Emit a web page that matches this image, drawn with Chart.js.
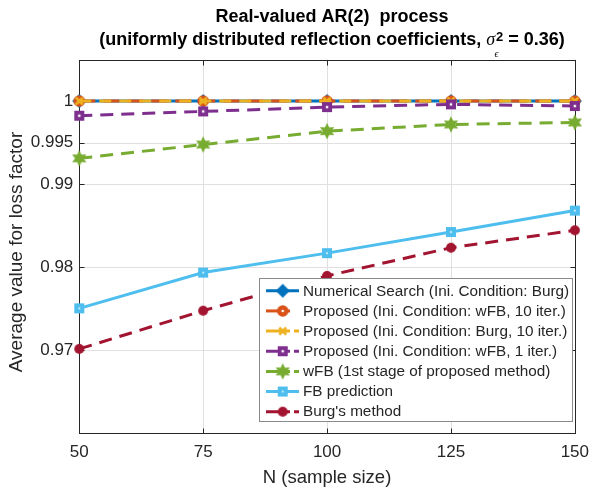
<!DOCTYPE html>
<html><head><meta charset="utf-8">
<script src="https://cdn.jsdelivr.net/npm/chart.js@4"></script>
<style>html,body{margin:0;padding:0;background:#fff}canvas{display:block}</style>
</head><body>
<canvas id="c" width="598" height="493"></canvas>
<script>
// ---------- data ----------
const sampleSizes = [50, 75, 100, 125, 150];
const numericalSearch = [1.0000, 1.0000, 1.0000, 1.0000, 1.0000];
const proposedWFB10  = [1.0000, 1.0000, 1.0000, 1.0000, 1.0000];
const proposedBurg10 = [1.0000, 1.0000, 1.0000, 1.0000, 1.0000];
const proposedWFB1   = [0.99823, 0.99875, 0.99927, 0.99960, 0.99940];
const wFBStage       = [0.99310, 0.99476, 0.99637, 0.99718, 0.99742];
const fbPrediction   = [0.97504, 0.97935, 0.98169, 0.98423, 0.98681];
const burgMethod     = [0.97016, 0.97476, 0.97895, 0.98234, 0.98444];
const xTicks = [50, 75, 100, 125, 150];
const yTicks = [0.97, 0.98, 0.99, 0.995, 1];
const seriesNames = [
  'Numerical Search (Ini. Condition: Burg)',
  'Proposed (Ini. Condition: wFB, 10 iter.)',
  'Proposed (Ini. Condition: Burg, 10 iter.)',
  'Proposed (Ini. Condition: wFB, 1 iter.)',
  'wFB (1st stage of proposed method)',
  'FB prediction',
  "Burg's method"
];
const seriesValues = [numericalSearch, proposedWFB10, proposedBurg10, proposedWFB1, wFBStage, fbPrediction, burgMethod];

// ---------- marker images ----------
function mk(size, fn){const c=document.createElement('canvas');c.width=c.height=size;const g=c.getContext('2d');fn(g,size/2);return c;}
const FONT='"Liberation Sans", Arial, Helvetica, sans-serif';
const mDiamond = mk(16,(g,h)=>{g.fillStyle='#0072BD';g.beginPath();g.moveTo(h,1);g.lineTo(15,h);g.lineTo(h,15);g.lineTo(1,h);g.closePath();g.fill();});
const mOrange = mk(14,(g,h)=>{g.fillStyle='#D95319';g.beginPath();g.arc(h,h,5.8,0,Math.PI*2);g.fill();g.fillStyle='#fff';g.beginPath();g.arc(h,h,1.3,0,Math.PI*2);g.fill();});
const mX = mk(12,(g,h)=>{g.strokeStyle='#EDB120';g.lineWidth=2.6;g.beginPath();g.moveTo(h-3.5,h-3.5);g.lineTo(h+3.5,h+3.5);g.moveTo(h+3.5,h-3.5);g.lineTo(h-3.5,h+3.5);g.stroke();});
const mPurple = mk(12,(g,h)=>{g.fillStyle='#7E2F8E';g.fillRect(h-5,h-5,10,10);g.fillStyle='#fff';g.fillRect(h-1.2,h-1.2,2.4,2.4);});
const mStar = mk(18,(g,h)=>{g.fillStyle='#77AC30';g.beginPath();for(let i=0;i<12;i++){const r=i%2===0?8.2:4.3;const a=-Math.PI/2+i*Math.PI/6;const px=h+r*Math.cos(a),py=h+r*Math.sin(a);i?g.lineTo(px,py):g.moveTo(px,py);}g.closePath();g.fill();});
const mBlueSq = mk(12,(g,h)=>{g.fillStyle='#4DBEEE';g.fillRect(h-5,h-5,10,10);g.fillStyle='#fff';g.fillRect(h-0.8,h-0.8,1.6,1.6);});
const mRed = mk(12,(g,h)=>{g.fillStyle='#A2142F';g.beginPath();g.arc(h,h,5,0,Math.PI*2);g.fill();});

const styles = [
  {color:'#0072BD', dash:[], marker:mDiamond, legendDash:[]},
  {color:'#D95319', dash:[16,8], marker:mOrange, legendDash:[24,40]},
  {color:'#EDB120', dash:[12,8], marker:mX, legendDash:[24,4]},
  {color:'#7E2F8E', dash:[13,8], marker:mPurple, legendDash:[24,4]},
  {color:'#77AC30', dash:[13,8], marker:mStar, legendDash:[24,4]},
  {color:'#4DBEEE', dash:[], marker:mBlueSq, legendDash:[]},
  {color:'#A2142F', dash:[13,8], marker:mRed, legendDash:[24,4]}
];

const datasets = seriesValues.map((vals,i)=>({
  label: seriesNames[i],
  data: sampleSizes.map((x,j)=>({x:x, y:vals[j]})),
  borderColor: styles[i].color,
  backgroundColor: styles[i].color,
  borderWidth: 3,
  borderDash: styles[i].dash,
  pointStyle: styles[i].marker,
  pointRadius: 5,
  pointHoverRadius: 5,
  tension: 0,
  fill: false,
  clip: false,
  order: 10 - i
}));

const AX='#262626';
const framePlugin = {
  id:'frame',
  beforeDatasetsDraw(chart){
    const {ctx, chartArea:a, scales:{x,y}} = chart;
    ctx.save();
    ctx.strokeStyle='#e0e0e0'; ctx.lineWidth=1;
    yTicks.forEach(v=>{const py=Math.round(y.getPixelForValue(v))+0.5;ctx.beginPath();ctx.moveTo(a.left,py);ctx.lineTo(a.right,py);ctx.stroke();});
    xTicks.forEach(v=>{const px=Math.round(x.getPixelForValue(v))+0.5;ctx.beginPath();ctx.moveTo(px,a.top);ctx.lineTo(px,a.bottom);ctx.stroke();});
    ctx.strokeStyle=AX;
    const L=Math.round(a.left)+0.5,R=Math.round(a.right)+0.5,T=Math.round(a.top)+0.5,B=Math.round(a.bottom)+0.5;
    ctx.strokeRect(L,T,R-L,B-T);
    ctx.beginPath();
    yTicks.forEach(v=>{const py=Math.round(y.getPixelForValue(v))+0.5;ctx.moveTo(L,py);ctx.lineTo(L+5,py);ctx.moveTo(R,py);ctx.lineTo(R-5,py);});
    xTicks.forEach(v=>{const px=Math.round(x.getPixelForValue(v))+0.5;ctx.moveTo(px,B);ctx.lineTo(px,B-5);ctx.moveTo(px,T);ctx.lineTo(px,T+5);});
    ctx.stroke();
    ctx.restore();
  },
  afterDraw(chart){
    const ctx=chart.ctx;
    ctx.save();
    // y-axis label
    ctx.save();
    ctx.translate(17,252); ctx.rotate(-Math.PI/2);
    ctx.font='19px '+FONT; ctx.fillStyle=AX; ctx.textAlign='center'; ctx.textBaseline='middle';
    ctx.fillText('Average value for loss factor',0,0);
    ctx.restore();
    // legend
    const bx=259.5, by=278.5, bw=313, bh=143;
    ctx.fillStyle='#fff'; ctx.fillRect(bx,by,bw,bh);
    ctx.strokeStyle='#8a8a8a'; ctx.lineWidth=1; ctx.strokeRect(bx,by,bw,bh);
    ctx.font='15.3px '+FONT; ctx.textBaseline='middle'; ctx.textAlign='left';
    seriesNames.forEach((name,i)=>{
      const ry=290.8+i*20.15;
      ctx.save();
      ctx.strokeStyle=styles[i].color; ctx.lineWidth=3; ctx.setLineDash(styles[i].legendDash);
      ctx.beginPath(); ctx.moveTo(266,ry); ctx.lineTo(299,ry); ctx.stroke();
      ctx.restore();
      const m=styles[i].marker; ctx.drawImage(m,282.7-m.width/2,ry-m.height/2);
      ctx.fillStyle=AX; ctx.fillText(name,303,ry+0.5);
    });
    // title
    const cx=332;
    ctx.fillStyle='#000'; ctx.textBaseline='alphabetic';
    ctx.font='bold 18px '+FONT;
    const l1='Real-valued AR(2)  process';
    ctx.fillText(l1,cx-ctx.measureText(l1).width/2,21.5);
    const pre='(uniformly distributed reflection coefficients, ', post=' = 0.36)';
    const wPre=ctx.measureText(pre).width, wPost=ctx.measureText(post).width;
    ctx.font='italic 18px "Liberation Serif", "Times New Roman", serif';
    const wSig=ctx.measureText('σ').width;
    ctx.font='bold 13px '+FONT;
    const wSup=ctx.measureText('2').width;
    const total=wPre+wSig+1+wSup+wPost;
    let x0=cx-total/2;
    ctx.font='bold 18px '+FONT; ctx.fillText(pre,x0,44.5);
    ctx.font='italic 18px "Liberation Serif", "Times New Roman", serif'; ctx.fillText('σ',x0+wPre,44.5);
    ctx.font='italic 10px "Liberation Serif", "Times New Roman", serif'; ctx.fillText('ϵ',x0+wPre+wSig-0.5,57);
    ctx.font='bold 13px '+FONT; ctx.fillText('2',x0+wPre+wSig+1,40.5);
    ctx.font='bold 18px '+FONT; ctx.fillText(post,x0+wPre+wSig+1+wSup,44.5);
    ctx.restore();
  }
};

new Chart(document.getElementById('c'),{
  type:'line',
  data:{datasets},
  options:{
    responsive:false, animation:false, devicePixelRatio:1,
    layout:{padding:{top:59.5,right:15,left:0,bottom:0}},
    plugins:{legend:{display:false},tooltip:{enabled:false},title:{display:false}},
    events:[],
    scales:{
      x:{type:'linear',min:50,max:150,
        afterBuildTicks(s){s.ticks=xTicks.map(v=>({value:v}));},
        afterFit(s){s.height=59.7;},
        grid:{display:false,drawTicks:false},border:{display:false},
        ticks:{color:AX,font:{family:FONT,size:17},padding:9,maxRotation:0,callback:v=>String(v)},
        title:{display:true,text:'N (sample size)',color:AX,font:{family:FONT,size:18.5},padding:{top:0,bottom:4}}
      },
      y:{type:'linear',min:0.96,max:1.005,
        afterBuildTicks(s){s.ticks=yTicks.map(v=>({value:v}));},
        afterFit(s){s.width=79.3;},
        grid:{display:false,drawTicks:false},border:{display:false},
        ticks:{color:AX,font:{family:FONT,size:17},padding:6,callback:v=>String(v)},
        title:{display:false}
      }
    }
  },
  plugins:[framePlugin]
});
</script>
</body></html>
